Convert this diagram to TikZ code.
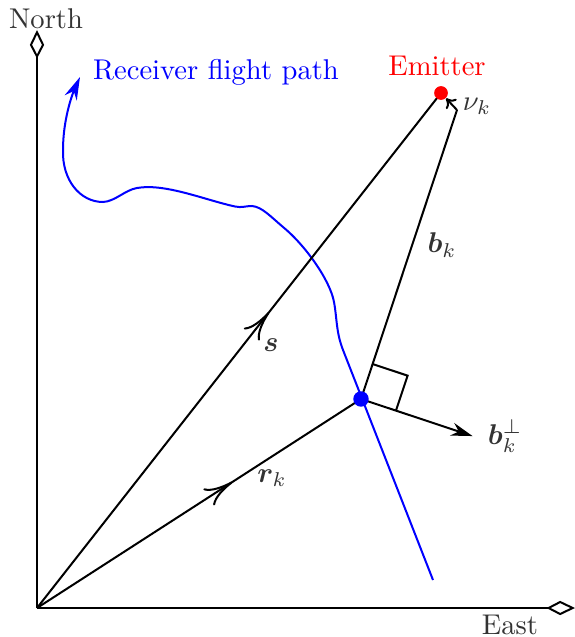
\documentclass[tikz,border=0pt]{standalone}
\usepackage{bm}
\usetikzlibrary{arrows.meta,calc,decorations.markings,backgrounds}
\begin{document}
\begin{tikzpicture}[x=0.35pt,y=-0.35pt,
  ln/.style={line width=0.7pt},
  axis/.style={ln,-{Kite[open,length=10pt,width=5pt,inset=4.8pt]}},
  lbl/.style={text=black!80,inner sep=0pt},
  dot/.style={circle,inner sep=0pt,minimum size=#1},
  midarrow/.style={postaction={decorate},decoration={markings,
     mark=at position #1 with {\arrow{Computer Modern Rightarrow[length=10pt,width=7pt]}}}},
  ]
\useasboundingbox (0,0) rectangle (575,637);
% points
\coordinate (O) at (37,608);
\coordinate (NT) at (37,30);
\coordinate (ET) at (575,608);
\coordinate (Nk) at (457,110);
\node[dot=4.8pt,fill=red] (E) at (441,93) {};
\node[dot=5.4pt,fill=blue] (R) at (361,399) {};
\coordinate (A) at ($(R)!0.121!(Nk)$);
\coordinate (D) at ($(R)!0.121!-90:(Nk)$);
\coordinate (C) at ($(A)+(D)-(R)$);
\coordinate (P) at ($(R)!0.386!-90:(Nk)$);

\begin{scope}[on background layer]
% flight path
\draw[ln,blue,-{Stealth[length=8pt,width=4.6pt]}]
  (433,580) -- (343,350)
  .. controls (336,332) and (337,318) .. (334,302)
  .. controls (330,280) and (305,245) .. (283,227)
  .. controls (270,216) and (262,207) .. (252,206)
  .. controls (245,206) and (242,208) .. (235,206.5)
  .. controls (205,200) and (165,183) .. (137,188)
  .. controls (125,190) and (115,201.5) .. (103,202)
  .. controls (80,202) and (62,180) .. (63,150)
  .. controls (63,120) and (72,95) .. (80,77);
% axes
\draw[axis] (O) -- (NT);
\draw[axis] (O) -- (ET);
% vectors
\draw[ln,midarrow=0.574] (O) -- (E.center);
\draw[ln,midarrow=0.603] (O) -- (R.center);
\draw[ln] (R.center) -- (Nk);
\draw[ln,-{Computer Modern Rightarrow[length=3pt,width=5pt]}] (Nk) -- (E);
\draw[ln] (A) -- (C) -- (D);
\draw[ln,-{Stealth[length=7.5pt,width=4.6pt]}] (R.center) -- (P);
\end{scope}

% labels
\node[lbl] (north) at (46,19) {North};
\node[lbl] (east) at (510,625) {East};
\node[inner sep=0pt,text=red] (emit) at (437,66) {Emitter};
\node[inner sep=0pt,text=blue] (rfp) at (216,72) {Receiver flight path};
\node[lbl] (ls) at (271,345) {$\bm{s}$};
\node[lbl] (lr) at (272,478) {$\bm{r}_k$};
\node[lbl] (lb) at (442,245) {$\bm{b}_k$};
\node[lbl] (lbp) at (505,436) {$\bm{b}_k^{\perp}$};
\node[lbl] (lnu) at (477,106) {$\nu_k$};
\end{tikzpicture}
\end{document}
